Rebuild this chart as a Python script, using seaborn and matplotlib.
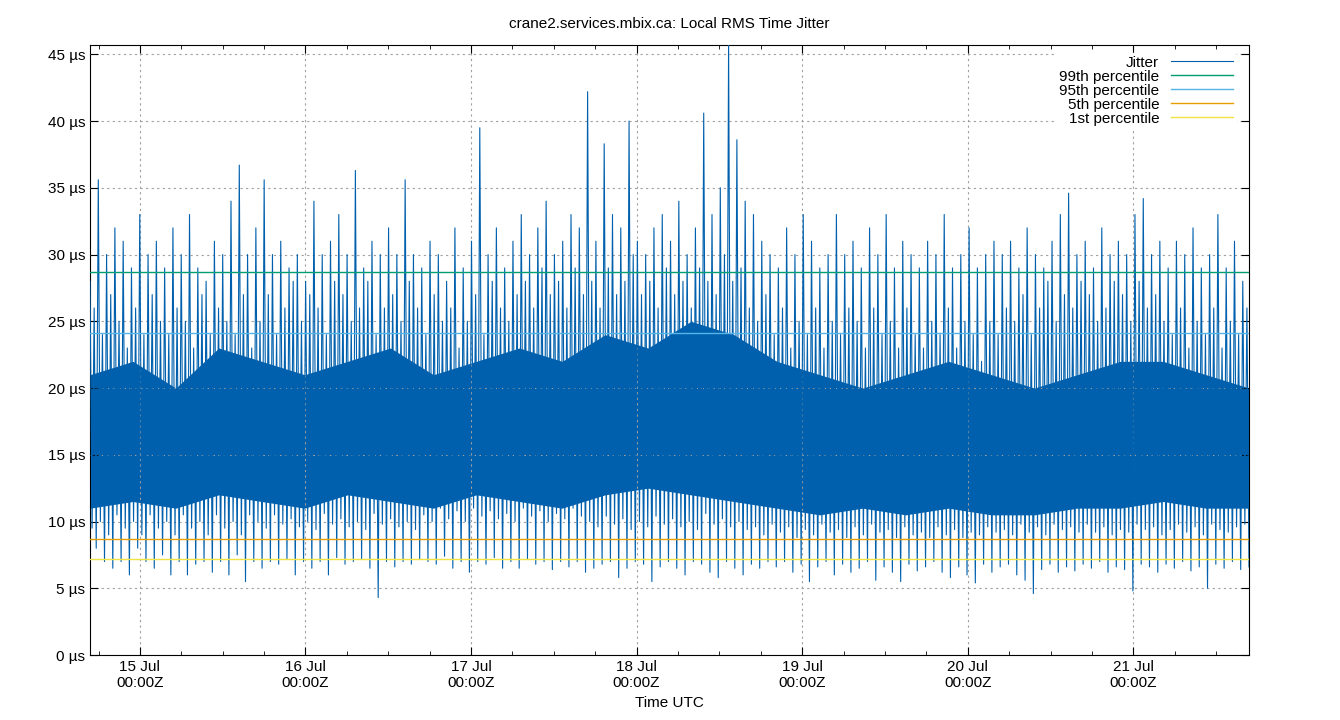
import numpy as np
import pandas as pd
import matplotlib
matplotlib.use("Agg")
import matplotlib.pyplot as plt
import matplotlib.dates as mdates
import seaborn as sns

highs = [28,35.6,30,32,31,29,33,30,31,29,
         32,30,33,29,28,31,30,34,36.7,30,
         32,35.6,30,31,29,30,28,34,30,31,
         33,30,36.3,29,31,30,32,30,35.6,30,
         29,31,30,28,32,29,31,39.5,30,32,
         29,31,33,30,32,34,30,31,33,32,
         42.2,31,38.3,33,32,40,31,30,32,33,
         31,34,30,32,40.6,33,35,45.8,38.6,34,
         33,31,30,29,32,30,33,31,29,30,
         33,30,31,29,32,30,33,29,31,30,
         29,31,30,33,29,30,32,29,30,31,
         30,31,29,32,30,29,31,33,34.6,30,
         31,29,32,30,31,30,33,34.2,30,31,
         29,31,30,32,29,30,33,29,31,28]
lows = [8,7,6.5,7,6,8,7,6.5,7.5,6,
        7,6,6.8,7,6.2,7,6,7.5,5.5,7,
        6.5,7,6.8,7.2,6,7,6.5,7,6,7.3,
        6.8,7,7.2,6.5,4.3,7,6.6,7,6.8,7.2,
        7,6.8,7.4,6.5,7,6.2,7,6.8,7.3,6.5,
        7,6.5,7.2,6.8,7,6.4,7,6.6,7,6.2,
        6.5,6.8,7,5.8,6.5,7,6.8,5.5,6.6,7,
        6.5,6,7,6.8,6.2,5.8,7,6.5,6,6.8,
        6.5,7,6.6,7,6.2,6.8,5.5,6.6,7,6,
        6.8,6.2,6.5,7,5.6,6.6,6.2,5.5,6.8,6.3,
        6.6,7,6.2,5.8,6.6,6,5.4,6.8,6.2,6.6,
        6.8,6,5.6,4.6,6.4,6.8,6.2,6.6,6.3,6.8,
        6.5,7,6.2,6.6,6.4,4.8,6.8,6.6,6.2,6.8,
        6.5,7,6.3,6.6,5,6.8,6.5,7,6.4,6.6]
mid_hi = [26,24,27,25,23,26,24,27,25,24,
          26,25,23,27,24,26,25,24,27,23,
          25,27,24,26,28,25,27,26,24,28,
          27,25,26,28,24,26,27,25,28,26,
          24,27,25,26,23,25,27,24,28,26,
          25,27,28,26,29,27,28,26,29,27,
          28,26,29,27,28,30,27,28,26,29,
          27,28,26,29,28,27,30,28,29,26,
          25,27,24,26,23,25,24,26,23,25,
          24,26,25,23,26,24,25,23,26,24,
          23,25,24,26,23,25,24,22,25,24,
          26,25,27,24,26,28,25,27,26,28,
          27,25,26,28,27,25,28,26,27,25,
          24,26,23,25,24,26,23,25,24,26]
mid_lo = [9.5,10,9,10.5,9.5,10,9,10.5,9.5,10,
          9,10.5,9.5,10,9,10.5,9.5,10,9,10.5,
          10,9.5,10.5,9.8,10.2,9.6,10,9.4,10.6,9.8,
          10.2,9.6,10,9.4,10.6,9.8,10.2,9.6,10,9.4,
          10.5,10,11,10.2,10.8,10,11,10.4,10.8,10.2,
          10.6,10,11,10.4,10.8,10,10.6,10.2,11,10.4,
          10,9.6,10.4,9.8,10.2,9.4,10,9.6,10.4,9.8,
          10.2,9.6,10,9.4,10.6,9.8,10.2,9.6,10,9.4,
          9.6,9,9.8,9.2,9.6,8.8,9.4,9,9.8,9.2,
          9.4,8.8,9.6,9,9.8,9.2,9.4,8.8,9.6,9,
          9.2,8.8,9.6,9,9.4,8.8,9.2,9,9.6,9.2,
          9.4,9,9.8,9.2,9.6,9,9.8,9.4,9.6,9.2,
          9.8,9.2,9.6,9,9.4,9.2,9.8,9.4,9.6,9,
          9.4,9.8,9.2,9.6,9,9.8,9.4,9.2,9.6,9.8]
core_top = [21,22,20,23,22,21,22,23,21,22,23,22,24,23,
            25,24,22,21,20,21,22,21,20,21,22,22,21,20]
core_bot = [11,11.5,11,12,11.5,11,12,11.5,11,12,11.5,11,12,12.5,
            12,11.5,11,10.5,11,10.5,11,10.5,10.5,11,11,11.5,11,11]
percentiles = {"99th percentile": 28.7, "95th percentile": 24.1,
               "5th percentile": 8.7, "1st percentile": 7.2}
pct_colors = ["#009e73", "#56b4e9", "#e69f00", "#f0e442"]
yticks = [0, 5, 10, 15, 20, 25, 30, 35, 40, 45]

start = pd.Timestamp("2025-07-14 16:46")
end = pd.Timestamp("2025-07-21 16:46")
n = len(highs)
t = pd.date_range(start, end, periods=4 * n)
vals = []
for h, ml, mh, l in zip(highs, mid_lo, mid_hi, lows):
    vals += [h, ml, mh, l]
df = pd.DataFrame({"t": t, "v": vals})
tc = pd.date_range(start, end, periods=len(core_top))

plt.rcParams["font.family"] = "Liberation Sans"
fig = plt.figure(figsize=(13.4, 7.2), dpi=100)
ax = fig.add_axes([90/1340, 65/720, (1249-90)/1340, (655-45)/720])
jc = "#0060ad"
ax.fill_between(tc, core_bot, core_top, color=jc, lw=0, zorder=2)
sns.lineplot(data=df, x="t", y="v", ax=ax, color=jc, lw=0.8, label="Jitter", zorder=3)
for (name, v), c in zip(percentiles.items(), pct_colors):
    ax.axhline(v, color=c, lw=1, label=name, zorder=4)

ax.set_xlim(start, end)
ax.set_ylim(0, 45.7)
ax.set_yticks(yticks)
ax.set_yticklabels([f"{y} µs" for y in yticks])
ax.xaxis.set_major_locator(mdates.DayLocator())
ax.xaxis.set_major_formatter(mdates.DateFormatter("%d %b\n%H:%MZ"))
ax.xaxis.set_minor_locator(mdates.HourLocator(byhour=[6, 12, 18]))
ax.tick_params(which="both", direction="in", top=True, right=True, labelsize=11)
ax.tick_params(which="major", length=6)
ax.tick_params(which="minor", length=3)
ax.grid(True, which="major", color="#a0a0a0", ls=(0, (2, 3)), lw=0.8)
ax.set_axisbelow(False)
ax.set_xlabel("Time UTC", fontsize=11)
ax.set_ylabel("")
ax.set_title("crane2.services.mbix.ca: Local RMS Time Jitter", fontsize=11, pad=12)
ax.legend(loc="upper right", markerfirst=False, frameon=True, framealpha=1,
          edgecolor="white", fontsize=11, handlelength=4, labelspacing=0.0,
          borderpad=0.2, bbox_to_anchor=(0.995, 1.0))
fig.savefig("out.png", dpi=100)
